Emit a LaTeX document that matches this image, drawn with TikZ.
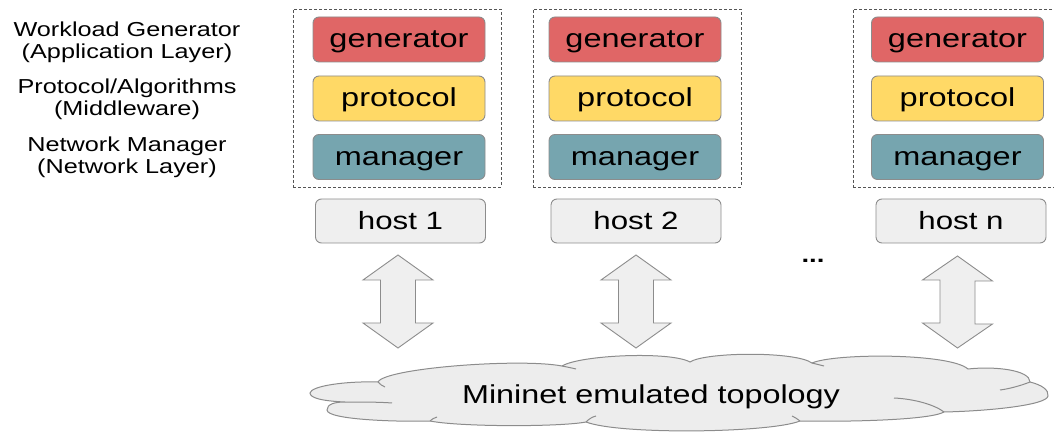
\documentclass[tikz,border=0pt]{standalone}
\usepackage{fontspec}
\setmainfont{Liberation Sans}[FakeStretch=1.25]
\usetikzlibrary{calc}
\definecolor{genred}{HTML}{E06666}
\definecolor{protoyellow}{HTML}{FFD966}
\definecolor{mgrteal}{HTML}{76A5AF}
\definecolor{hostgray}{HTML}{EFEFEF}
\definecolor{edgegray}{HTML}{8C8C8C}
\definecolor{cloudfill}{HTML}{EDEDED}
\definecolor{dashgray}{HTML}{555555}

\begin{document}
\begin{tikzpicture}[x=1pt,y=-1pt,
  layerbox/.style={draw=edgegray, line width=0.9pt, rounded corners=6pt,
    minimum width=172pt, minimum height=45pt, inner sep=0pt,
    text height=17pt, text depth=0pt,
    font=\fontsize{26}{30}\selectfont},
  genbox/.style={layerbox, fill=genred},
  protobox/.style={layerbox, fill=protoyellow},
  mgrbox/.style={layerbox, fill=mgrteal},
  hostbox/.style={draw=edgegray, line width=0.9pt, rounded corners=6pt, fill=hostgray,
    minimum width=170pt, minimum height=44pt, inner sep=0pt,
    text height=17pt, text depth=0pt,
    font=\fontsize{25}{30}\selectfont},
  stackbox/.style={draw=dashgray, line width=0.9pt, dash pattern=on 3pt off 2pt,
    minimum width=208pt, minimum height=178pt, inner sep=0pt},
  sidelabel/.style={align=center, font=\fontsize{20.2}{22}\selectfont},
  blockarrow/.style={draw=edgegray, line width=0.9pt, fill=hostgray, line join=miter},
  cloudline/.style={draw=edgegray, line width=1pt},
]
\useasboundingbox (0,0) rectangle (1054,435);
\clip (0,0) rectangle (1054,435);

% layer descriptions
\node[sidelabel] (lblgen) at (127,42.5) {Workload Generator\\(Application Layer)};
\node[sidelabel] (lblproto) at (127,99) {Protocol/Algorithms\\(Middleware)};
\node[sidelabel] (lblmgr) at (127,157.5) {Network Manager\\(Network Layer)};

% per-host software stacks
\node[stackbox] (stack1) at (397,98) {};
\node[stackbox] (stack2) at (637,98) {};
\node[stackbox] (stack3) at (957,98) {};

\node[genbox] (gen1) at (399,39.5) {generator};
\node[protobox] (proto1) at (399,98.5) {protocol};
\node[mgrbox] (mgr1) at (399,157) {manager};

\node[genbox] (gen2) at (635,39.5) {generator};
\node[protobox] (proto2) at (635,98.5) {protocol};
\node[mgrbox] (mgr2) at (635,157) {manager};

\node[genbox] (gen3) at (957.5,39.5) {generator};
\node[protobox] (proto3) at (957.5,98.5) {protocol};
\node[mgrbox] (mgr3) at (957.5,157) {manager};

% hosts
\node[hostbox] (host1) at (400.5,221) {host 1};
\node[hostbox] (host2) at (636,221) {host 2};
\node[hostbox] (hostn) at (961,221) {host n};

\node[font=\fontsize{22}{24}\selectfont\bfseries, anchor=base, inner sep=0pt] (dots) at (813,263) {...};

% emulated network cloud
\path[fill=cloudfill, cloudline]
  (310,393)
  .. controls (311,386) and (345,381) .. (378,382)
  .. controls (385,368) and (520,358) .. (562,366)
  .. controls (580,355) and (670,351) .. (690,362)
  .. controls (705,352) and (795,351) .. (812,363)
  .. controls (835,353) and (950,353) .. (968,369)
  .. controls (995,366) and (1030,370) .. (1030,382)
  .. controls (1042,385) and (1049,390) .. (1048,396)
  .. controls (1047,405) and (990,411) .. (944,412)
  .. controls (930,420) and (850,422) .. (800,421)
  .. controls (770,433) and (620,435) .. (586,422)
  .. controls (560,427) and (460,427) .. (430,421)
  .. controls (400,422) and (327,420) .. (327,410)
  .. controls (327,404) and (335,402) .. (345,402)
  .. controls (322,401) and (310,398) .. (310,393)
  -- cycle;
% inner folds of the cloud
\draw[cloudline] (345,402) .. controls (360,402) and (380,402) .. (392,403);
\draw[cloudline] (378,382) .. controls (380,384) and (382,386) .. (385,387);
\draw[cloudline] (562,366) .. controls (567,367) and (572,368) .. (576,369);
\draw[cloudline] (812,363) .. controls (816,364) and (820,365) .. (824,366);
\draw[cloudline] (1030,382) .. controls (1020,386) and (1008,389) .. (1000,390);
\draw[cloudline] (944,412) .. controls (935,405) and (915,399) .. (894,398);
\draw[cloudline] (430,421) .. controls (432,419) and (434,418) .. (437,417);
\draw[cloudline] (586,422) .. controls (589,419) and (592,417) .. (596,416);
\draw[cloudline] (800,421) .. controls (797,419) and (795,417) .. (792,416);
\node[font=\fontsize{25.9}{30}\selectfont, anchor=base, inner sep=0pt] (topo) at (651,403) {Mininet emulated topology};

% two-way links between each host and the topology
\coordinate (t1) at (398,255);   \coordinate (b1) at (398,348);
\coordinate (t2) at (636,255);   \coordinate (b2) at (636,348);
\coordinate (tn) at (957.5,256); \coordinate (bn) at (957.5,348);
\foreach \t/\b in {t1/b1,t2/b2,tn/bn}{
  \draw[blockarrow] (\t) -- ++(35,25) -- ++(-17.5,0) -- ++(0,43) -- ++(17.5,0)
    -- (\b) -- ++(-35,-25) -- ++(17.5,0) -- ++(0,-43) -- ++(-17.5,0) -- cycle;
}
\end{tikzpicture}
\end{document}
